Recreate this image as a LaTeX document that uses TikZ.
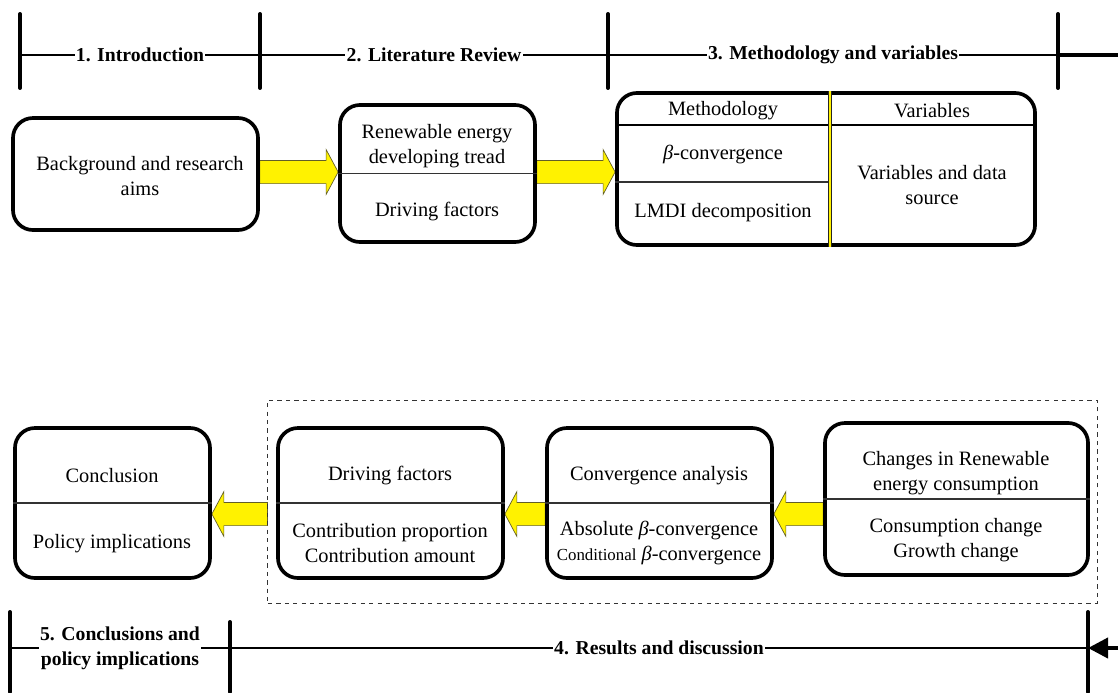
\documentclass[tikz,border=0pt]{standalone}
\usepackage{fontspec}
\setmainfont{Liberation Serif}
\usetikzlibrary{calc,arrows.meta}
\pgfdeclarelayer{background}
\pgfsetlayers{background,main}

\tikzset{
  roundBox/.style={rectangle, rounded corners=0.5cm, draw=black, line width=2.6pt, fill=white},
  cellText/.style={align=center, inner sep=0pt, yshift=-2pt, font=\fontsize{14.5}{18}\selectfont},
  titleText/.style={fill=white, inner sep=1pt, align=center, font=\fontsize{14}{17.5}\selectfont\bfseries},
  tickLine/.style={line width=2.8pt, line cap=round},
  axisLine/.style={line width=0.8pt},
  thinRule/.style={line width=0.8pt, draw=black!80},
  fatArrow/.style={fill=yellow, draw=olive!60!black, line width=0.5pt, line join=miter},
  resultsFrame/.style={rectangle, draw=black!80, dashed, line width=0.6pt}
}

% yellow block arrow from #1 to #2 (horizontal)
\newcommand{\blockArrow}[2]{%
  \coordinate (headBase) at ($(#2)!0.3cm!(#1)$);
  \draw[fatArrow] ($(#1)+(0,0.29cm)$) -- ($(headBase)+(0,0.29cm)$) -- ($(headBase)+(0,0.56cm)$) -- (#2)
    -- ($(headBase)+(0,-0.56cm)$) -- ($(headBase)+(0,-0.29cm)$) -- ($(#1)+(0,-0.29cm)$) -- cycle;}

\begin{document}
\begin{tikzpicture}[x=0.025cm, y=-0.025cm]
\useasboundingbox (0,0) rectangle (1118,692);

% top time line
\coordinate (t1) at (20,55);
\coordinate (t2) at (260,55);
\coordinate (t3) at (608,55);
\coordinate (t4) at (1058,55);
\coordinate (topEnd) at (1118,55);
\draw[axisLine] (t1) -- node[titleText](introTitle){1. Introduction} (t2)
  -- node[titleText](litTitle){2. Literature Review} (t3)
  -- node[titleText](methTitle){3. Methodology and variables} (t4);
\draw[tickLine, line cap=butt] (t4) -- (topEnd);
\foreach \x in {20,260,608,1058} \draw[tickLine] (\x,14) -- (\x,88);

% top boxes
\node[roundBox, minimum width=6.125cm, minimum height=2.8cm](bgBox) at (135.5,174){};
\node[roundBox, minimum width=4.875cm, minimum height=3.425cm](litBox) at (437.5,173.5){};
\node[roundBox, minimum width=10.45cm, minimum height=3.8cm](methBox) at (826,169){};

\draw[thinRule] (litBox.west) -- (litBox.east);

\coordinate (colSplit) at (830,0);
\coordinate (headRow) at (0,125);
\coordinate (subRow) at (0,182);
\draw[line width=2pt] (methBox.west |- headRow) -- (methBox.east |- headRow);
\draw[thinRule] (methBox.west |- subRow) -- (colSplit |- subRow);
\draw[line width=3.4pt, black!85] (methBox.north -| colSplit) -- (methBox.south -| colSplit);
\draw[line width=2pt, yellow] (methBox.north -| colSplit) -- (methBox.south -| colSplit);

\node[cellText](bgText) at (140,173){Background and research\\aims};
\node[cellText](trendText) at (437,143){Renewable energy\\developing tread};
\node[cellText](factorText) at (437,209){Driving factors};
\node[cellText](methHead) at (723,108){Methodology};
\node[cellText](varHead) at (932,108){Variables};
\node[cellText](betaText) at (723,152){\textit{β}-convergence};
\node[cellText](lmdiText) at (723,210){LMDI decomposition};
\node[cellText](dataText) at (932,182){Variables and data\\source};

% bottom boxes
\node[resultsFrame, minimum width=20.725cm, minimum height=5.075cm](resFrame) at (682.5,501.5){};
\node[roundBox, minimum width=4.875cm, minimum height=3.75cm](concBox) at (112.5,503){};
\node[roundBox, minimum width=5.625cm, minimum height=3.75cm](drvBox) at (390.5,503){};
\node[roundBox, minimum width=5.625cm, minimum height=3.75cm](convBox) at (659.5,503){};
\node[roundBox, minimum width=6.575cm, minimum height=3.8cm](chgBox) at (956.5,499){};

\draw[thinRule] (concBox.west) -- (concBox.east);
\draw[thinRule] (drvBox.west) -- (drvBox.east);
\draw[thinRule] (convBox.west) -- (convBox.east);
\draw[thinRule] (chgBox.west) -- (chgBox.east);

\node[cellText](concText) at (112,473){Conclusion};
\node[cellText](policyText) at (112,541){Policy implications};
\node[cellText](drvText) at (390,473){Driving factors};
\node[cellText](contribText) at (390,540){Contribution proportion\\Contribution amount};
\node[cellText](convText) at (659,473){Convergence analysis};
\node[cellText](absText) at (659,540){Absolute \textit{β}-convergence\\{\fontsize{12}{14}\selectfont Conditional} \textit{β}-convergence};
\node[cellText](chgText) at (956,470){Changes in Renewable\\energy consumption};
\node[cellText](growthText) at (956,537){Consumption change\\Growth change};

% block arrows
\coordinate (topRow) at (0,172);
\coordinate (lowRow) at (0,514);
\begin{pgfonlayer}{background}
\blockArrow{bgBox.east |- topRow}{litBox.west |- topRow}
\blockArrow{litBox.east |- topRow}{methBox.west |- topRow}
\blockArrow{resFrame.west |- lowRow}{concBox.east |- lowRow}
\blockArrow{convBox.west |- lowRow}{drvBox.east |- lowRow}
\blockArrow{chgBox.west |- lowRow}{convBox.east |- lowRow}
\end{pgfonlayer}

% bottom time line
\coordinate (b1) at (10,648);
\coordinate (b2) at (230,648);
\coordinate (b3) at (1088,648);
\coordinate (botEnd) at (1118,648);
\draw[axisLine] (b1) -- node[titleText](concTitle){5. Conclusions and\\policy implications} (b2)
  -- node[titleText](resTitle){4. Results and discussion} (b3);
\draw[tickLine] (10,612) -- (10,692);
\draw[tickLine] (230,622) -- (230,692);
\draw[tickLine] (1088,612) -- (1088,692);
\draw[tickLine, line cap=butt, -{Triangle[length=0.5cm,width=0.5cm]}] (botEnd) -- (b3);
\end{tikzpicture}
\end{document}
